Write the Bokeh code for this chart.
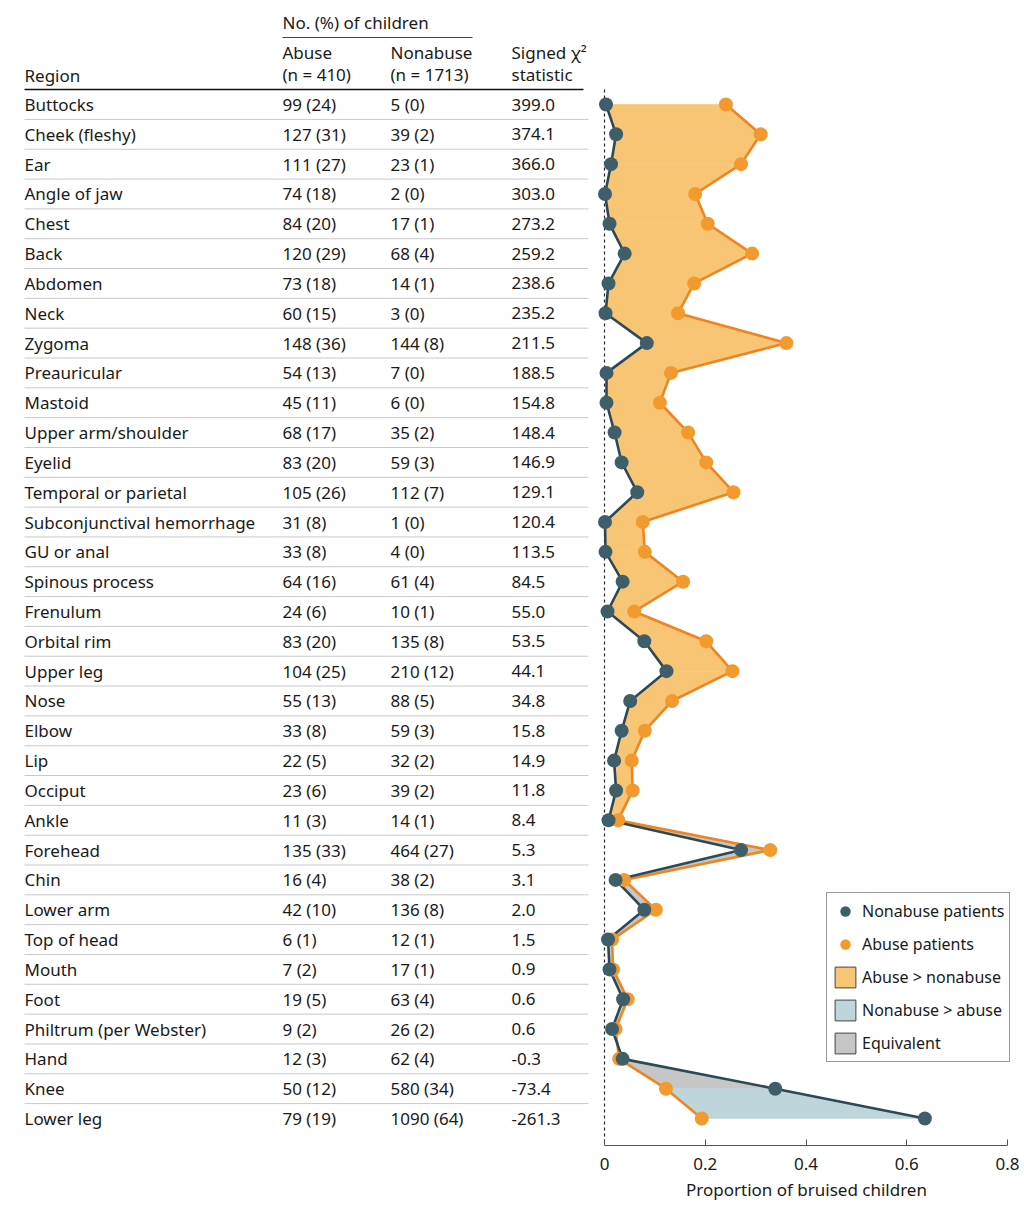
from bokeh.plotting import figure
from bokeh.models import Range1d, FixedTicker, Legend, LegendItem, ColumnDataSource
from bokeh.layouts import row
from bokeh.embed import file_html
from bokeh.resources import INLINE
from bokeh.core.properties import value

# ---------------- data ----------------
regions = ["Buttocks", "Cheek (fleshy)", "Ear", "Angle of jaw", "Chest", "Back", "Abdomen",
           "Neck", "Zygoma", "Preauricular", "Mastoid", "Upper arm/shoulder", "Eyelid",
           "Temporal or parietal", "Subconjunctival hemorrhage", "GU or anal", "Spinous process",
           "Frenulum", "Orbital rim", "Upper leg", "Nose", "Elbow", "Lip", "Occiput", "Ankle",
           "Forehead", "Chin", "Lower arm", "Top of head", "Mouth", "Foot",
           "Philtrum (per Webster)", "Hand", "Knee", "Lower leg"]
abuse_n = [99, 127, 111, 74, 84, 120, 73, 60, 148, 54, 45, 68, 83, 105, 31, 33, 64, 24, 83,
           104, 55, 33, 22, 23, 11, 135, 16, 42, 6, 7, 19, 9, 12, 50, 79]
abuse_pct = [24, 31, 27, 18, 20, 29, 18, 15, 36, 13, 11, 17, 20, 26, 8, 8, 16, 6, 20,
             25, 13, 8, 5, 6, 3, 33, 4, 10, 1, 2, 5, 2, 3, 12, 19]
nonabuse_n = [5, 39, 23, 2, 17, 68, 14, 3, 144, 7, 6, 35, 59, 112, 1, 4, 61, 10, 135,
              210, 88, 59, 32, 39, 14, 464, 38, 136, 12, 17, 63, 26, 62, 580, 1090]
nonabuse_pct = [0, 2, 1, 0, 1, 4, 1, 0, 8, 0, 0, 2, 3, 7, 0, 0, 4, 1, 8,
                12, 5, 3, 2, 2, 1, 27, 2, 8, 1, 1, 4, 2, 4, 34, 64]
chi2 = ["399.0", "374.1", "366.0", "303.0", "273.2", "259.2", "238.6", "235.2", "211.5",
        "188.5", "154.8", "148.4", "146.9", "129.1", "120.4", "113.5", "84.5", "55.0", "53.5",
        "44.1", "34.8", "15.8", "14.9", "11.8", "8.4", "5.3", "3.1", "2.0", "1.5", "0.9",
        "0.6", "0.6", "-0.3", "-73.4", "-261.3"]
abuse_prop = [0.241, 0.310, 0.271, 0.180, 0.205, 0.293, 0.178, 0.146, 0.361, 0.132, 0.110,
              0.166, 0.202, 0.256, 0.076, 0.080, 0.156, 0.059, 0.202, 0.254, 0.134, 0.080,
              0.054, 0.056, 0.027, 0.329, 0.039, 0.102, 0.015, 0.017, 0.046, 0.022, 0.029,
              0.122, 0.193]
nonabuse_prop = [0.003, 0.023, 0.013, 0.001, 0.010, 0.040, 0.008, 0.002, 0.084, 0.004, 0.004,
                 0.020, 0.034, 0.065, 0.001, 0.002, 0.036, 0.006, 0.079, 0.123, 0.051, 0.034,
                 0.019, 0.023, 0.008, 0.271, 0.022, 0.079, 0.007, 0.010, 0.037, 0.015, 0.036,
                 0.339, 0.636]
# class of the band between row i and row i+1
band_class = ["abuse"] * 24 + ["equiv"] * 9 + ["nonabuse"]
xticks = [0, 0.2, 0.4, 0.6, 0.8]
xtick_labels = ["0", "0.2", "0.4", "0.6", "0.8"]

# ---------------- style ----------------
FONT = "Noto Sans"
TXT = "#1a1a1a"
ORANGE_PT = "#F29A2E"
ORANGE_LN = "#EF8420"
TEAL_PT = "#3E5F6A"
TEAL_LN = "#2D4956"
FILL = {"abuse": "#F8C575", "nonabuse": "#BED5DC", "equiv": "#C6C6C6"}

N = len(regions)
rows = list(range(N))
ROW0, STEP = 104.0, (1118.0 - 104.0) / 34.0


def py(page_y):
    return (page_y - ROW0) / STEP


BOTTOM_PX = 1145
MB = 62
Y_TOP = py(0)
Y_BOT = py(BOTTOM_PX)
H = BOTTOM_PX + MB
LW = 596

# ---------------- left table ----------------
left = figure(width=LW, height=H, x_range=Range1d(0, LW), y_range=Range1d(Y_BOT, Y_TOP),
              x_axis_type=None, y_axis_type=None, toolbar_location=None,
              output_backend="svg", min_border_left=0, min_border_right=0,
              min_border_top=0, min_border_bottom=MB, outline_line_color=None)
left.grid.visible = False

fs = "17px"
tsrc = ColumnDataSource(dict(
    y=rows, region=regions,
    abuse=[f"{a} ({p})" for a, p in zip(abuse_n, abuse_pct)],
    nonabuse=[f"{a} ({p})" for a, p in zip(nonabuse_n, nonabuse_pct)],
    chi=chi2))
for col, xx in [("region", 24), ("abuse", 282), ("nonabuse", 390), ("chi", 511)]:
    left.text(x=xx, y="y", text=col, source=tsrc, text_font=value(FONT),
              text_font_size=fs, text_color=TXT, text_baseline="middle", text_align="left")

# row separators
left.segment(x0=24, x1=588, y0=[i + 0.5 for i in range(N - 1)],
             y1=[i + 0.5 for i in range(N - 1)], line_color="#c9c9c9", line_width=1)
# header
hdr = [("No. (%) of children", 282, 22), ("Abuse", 282, 52), ("(n = 410)", 282, 74),
       ("Nonabuse", 390, 52), ("(n = 1713)", 390, 74), ("Signed χ²", 511, 52),
       ("statistic", 511, 74), ("Region", 24, 75)]
left.text(x=[h[1] for h in hdr], y=[py(h[2]) for h in hdr], text=[h[0] for h in hdr],
          text_font=value(FONT), text_font_size=fs, text_color=TXT,
          text_baseline="middle", text_align="left")
left.segment(x0=282, x1=472, y0=py(37), y1=py(37), line_color="#444", line_width=1)
left.segment(x0=24, x1=583, y0=py(89), y1=py(89), line_color="#111", line_width=1.6)

# ---------------- right chart ----------------
PX = 503.75
x0 = (LW - 604) / PX
x1 = (1016 - 604) / PX
right = figure(width=1016 - LW + 8, height=H, x_range=Range1d(x0, x1), y_range=left.y_range,
               y_axis_type=None, toolbar_location=None, output_backend="svg",
               min_border_left=0, min_border_right=8, min_border_top=0,
               min_border_bottom=MB, outline_line_color=None)
right.grid.visible = False

bxs, bys, bcol = [], [], []
for i, cls in enumerate(band_class):
    bxs.append([abuse_prop[i], abuse_prop[i + 1], nonabuse_prop[i + 1], nonabuse_prop[i]])
    bys.append([i, i + 1, i + 1, i])
    bcol.append(FILL[cls])
right.patches(xs=bxs, ys=bys, fill_color=bcol, line_color=bcol, line_width=0.6)

right.segment(x0=0, x1=0, y0=-0.5, y1=Y_BOT, line_color="#222", line_width=1.2,
              line_dash="3 3")

right.line(abuse_prop, rows, line_color=ORANGE_LN, line_width=2.6)
right.line(nonabuse_prop, rows, line_color=TEAL_LN, line_width=2.6)
r_ab = right.scatter(abuse_prop, rows, size=14, fill_color=ORANGE_PT, line_color=None)
r_non = right.scatter(nonabuse_prop, rows, size=14, fill_color=TEAL_PT, line_color=None)

ax = right.xaxis[0]
ax.ticker = FixedTicker(ticks=xticks)
ax.major_label_overrides = dict(zip(xticks, xtick_labels))
ax.bounds = (0, 0.8)
ax.major_tick_in = 6
ax.major_tick_out = 0
ax.minor_tick_line_color = None
ax.axis_line_color = "#555"
ax.major_tick_line_color = "#555"
ax.major_label_text_font = FONT
ax.major_label_text_font_size = "17px"
ax.major_label_text_color = TXT
ax.major_label_standoff = 12
ax.axis_label = "Proportion of bruised children"
ax.axis_label_text_font = FONT
ax.axis_label_text_font_size = "17px"
ax.axis_label_text_font_style = "normal"
ax.axis_label_text_color = TXT
ax.axis_label_standoff = 5

# legend-only key boxes (placed outside the visible range)
d_ab = right.rect(x=[-5], y=[0], width=0.01, height=0.5, fill_color=FILL["abuse"],
                  line_color="#444", line_width=1)
d_non = right.rect(x=[-5], y=[0], width=0.01, height=0.5, fill_color=FILL["nonabuse"],
                   line_color="#444", line_width=1)
d_eq = right.rect(x=[-5], y=[0], width=0.01, height=0.5, fill_color=FILL["equiv"],
                  line_color="#444", line_width=1)

legend = Legend(items=[
    LegendItem(label="Nonabuse patients", renderers=[r_non]),
    LegendItem(label="Abuse patients", renderers=[r_ab]),
    LegendItem(label="Abuse > nonabuse", renderers=[d_ab]),
    LegendItem(label="Nonabuse > abuse", renderers=[d_non]),
    LegendItem(label="Equivalent", renderers=[d_eq]),
], location=(230, 83), glyph_width=26, glyph_height=26, spacing=7, padding=5,
    label_standoff=4, label_text_font=FONT, label_text_font_size="16px",
    label_text_color=TXT, border_line_color="#333", border_line_width=1,
    background_fill_alpha=1, margin=0)
right.add_layout(legend)

layout = row(left, right)
open("out.html", "w").write(file_html(layout, INLINE))
